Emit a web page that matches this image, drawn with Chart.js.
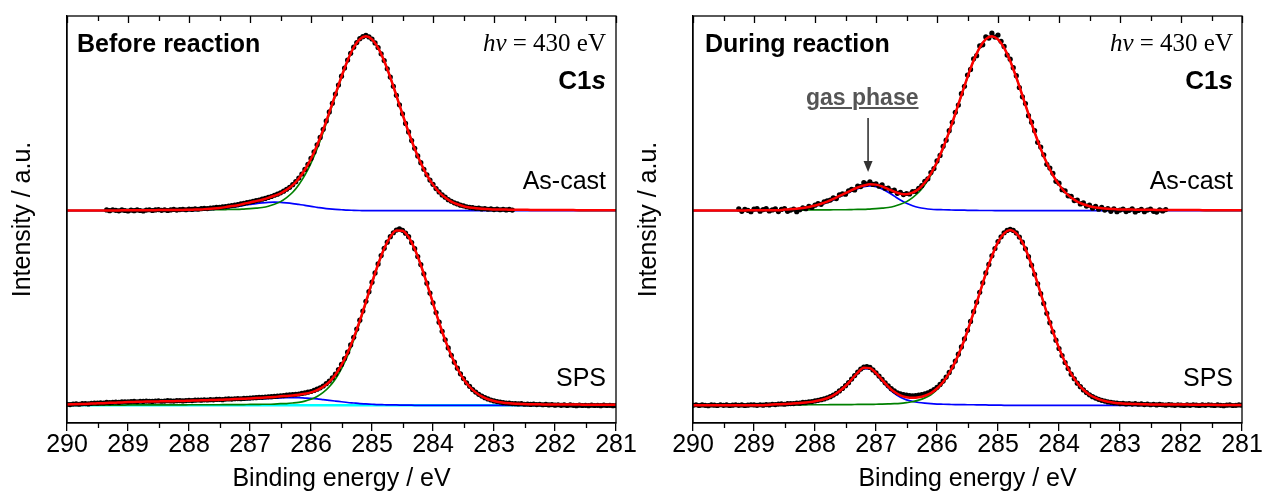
<!DOCTYPE html>
<html>
<head>
<meta charset="utf-8">
<script src="https://cdn.jsdelivr.net/npm/chart.js@4.4.1/dist/chart.umd.min.js"></script>
<style>
html,body{margin:0;padding:0;background:#fff;}
#wrap{position:relative;width:1263px;height:497px;overflow:hidden;font-family:"Liberation Sans",Arial,sans-serif;color:#000;}
canvas{position:absolute;top:0;}
.lbl{position:absolute;white-space:nowrap;line-height:1;font-size:25px;}
.b{font-weight:bold;}
.serif{font-family:"Liberation Serif","Times New Roman",serif;}
.gas{font-weight:bold;font-size:23px;color:#555;text-decoration:underline;text-decoration-thickness:2px;text-underline-offset:2px;}
</style>
</head>
<body>
<div id="wrap">
<canvas id="before" width="650" height="497" style="left:0px"></canvas>
<canvas id="during" width="660" height="497" style="left:631px"></canvas>

<div class="lbl b" style="left:77px;top:31px;">Before reaction</div>
<div class="lbl serif" style="right:657px;top:30px;"><i>hv</i> = 430 eV</div>
<div class="lbl b" style="right:657px;top:67px;font-size:26px;">C1<i>s</i></div>
<div class="lbl" style="right:657px;top:168px;">As-cast</div>
<div class="lbl" style="right:657px;top:365px;">SPS</div>

<div class="lbl b" style="left:705px;top:31px;">During reaction</div>
<div class="lbl serif" style="right:30px;top:30px;"><i>hv</i> = 430 eV</div>
<div class="lbl b" style="right:30px;top:67px;font-size:26px;">C1<i>s</i></div>
<div class="lbl gas" style="left:806px;top:86px;">gas phase</div>
<div class="lbl" style="right:30px;top:168px;">As-cast</div>
<div class="lbl" style="right:30px;top:365px;">SPS</div>
</div>

<script>
// ---- energy grids (eV) ----
const energyGrid = [290.0,289.9,289.8,289.7,289.6,289.5,289.4,289.3,289.2,289.1,
289.0,288.9,288.8,288.7,288.6,288.5,288.4,288.3,288.2,288.1,
288.0,287.9,287.8,287.7,287.6,287.5,287.4,287.3,287.2,287.1,
287.0,286.9,286.8,286.7,286.6,286.5,286.4,286.3,286.2,286.1,
286.0,285.9,285.8,285.7,285.6,285.5,285.4,285.3,285.2,285.1,
285.0,284.9,284.8,284.7,284.6,284.5,284.4,284.3,284.2,284.1,
284.0,283.9,283.8,283.7,283.6,283.5,283.4,283.3,283.2,283.1,
283.0,282.9,282.8,282.7,282.6,282.5,282.4,282.3,282.2,282.1,
282.0,281.9,281.8,281.7,281.6,281.5,281.4,281.3,281.2,281.1,
281.0];

const dataGrid = [290.00,289.95,289.90,289.85,289.80,289.75,289.70,289.65,289.60,289.55,289.50,289.45,289.40,289.35,289.30,289.25,289.20,289.15,289.10,289.05,
289.00,288.95,288.90,288.85,288.80,288.75,288.70,288.65,288.60,288.55,288.50,288.45,288.40,288.35,288.30,288.25,288.20,288.15,288.10,288.05,
288.00,287.95,287.90,287.85,287.80,287.75,287.70,287.65,287.60,287.55,287.50,287.45,287.40,287.35,287.30,287.25,287.20,287.15,287.10,287.05,
287.00,286.95,286.90,286.85,286.80,286.75,286.70,286.65,286.60,286.55,286.50,286.45,286.40,286.35,286.30,286.25,286.20,286.15,286.10,286.05,
286.00,285.95,285.90,285.85,285.80,285.75,285.70,285.65,285.60,285.55,285.50,285.45,285.40,285.35,285.30,285.25,285.20,285.15,285.10,285.05,
285.00,284.95,284.90,284.85,284.80,284.75,284.70,284.65,284.60,284.55,284.50,284.45,284.40,284.35,284.30,284.25,284.20,284.15,284.10,284.05,
284.00,283.95,283.90,283.85,283.80,283.75,283.70,283.65,283.60,283.55,283.50,283.45,283.40,283.35,283.30,283.25,283.20,283.15,283.10,283.05,
283.00,282.95,282.90,282.85,282.80,282.75,282.70,282.65,282.60,282.55,282.50,282.45,282.40,282.35,282.30,282.25,282.20,282.15,282.10,282.05,
282.00,281.95,281.90,281.85,281.80,281.75,281.70,281.65,281.60,281.55,281.50,281.45,281.40,281.35,281.30,281.25,281.20,281.15,281.10,281.05,
281.00];

const xTickValues = [290,289,288,287,286,285,284,283,282,281];
const gasPhaseEnergy = 287.13;

// ---- Before reaction, As-cast ----
const beforeAsCastMain = [0.001,0.001,0.001,0.001,0.001,0.001,0.001,0.001,0.001,0.002,
0.002,0.002,0.002,0.002,0.002,0.003,0.003,0.003,0.003,0.004,
0.004,0.004,0.004,0.005,0.005,0.005,0.006,0.007,0.007,0.009,
0.011,0.014,0.018,0.025,0.036,0.051,0.074,0.104,0.147,0.201,
0.269,0.350,0.443,0.545,0.650,0.753,0.846,0.920,0.968,0.985,
0.968,0.920,0.846,0.753,0.650,0.545,0.443,0.350,0.269,0.201,
0.147,0.104,0.074,0.051,0.036,0.025,0.018,0.014,0.011,0.009,
0.007,0.007,0.006,0.005,0.005,0.005,0.004,0.004,0.004,0.004,
0.003,0.003,0.003,0.003,0.002,0.002,0.002,0.002,0.002,0.002,
0.002];
const beforeAsCastMinor = [0,0,0,0,0,0,0,0,0,0,
0,0,0,0,0,0,0,0,0,0,
0.001,0.002,0.003,0.005,0.007,0.010,0.014,0.019,0.024,0.030,
0.035,0.040,0.044,0.047,0.048,0.047,0.044,0.040,0.035,0.030,
0.024,0.019,0.014,0.010,0.007,0.005,0.003,0.002,0.001,0,
0,0,0,0,0,0,0,0,0,0,
0,0,0,0,0,0,0,0,0,0,
0,0,0,0,0,0,0,0,0,0,
0,0,0,0,0,0,0,0,0,0,
0];
const beforeAsCastFit = [0.001,0.001,0.001,0.001,0.001,0.001,0.001,0.001,0.001,0.002,
0.002,0.002,0.002,0.002,0.002,0.003,0.003,0.003,0.003,0.004,
0.005,0.006,0.007,0.010,0.012,0.015,0.020,0.026,0.031,0.039,
0.046,0.054,0.062,0.072,0.084,0.098,0.118,0.144,0.182,0.231,
0.293,0.369,0.457,0.555,0.657,0.758,0.849,0.922,0.969,0.985,
0.968,0.920,0.846,0.753,0.650,0.545,0.443,0.350,0.269,0.201,
0.147,0.104,0.074,0.051,0.036,0.025,0.018,0.014,0.011,0.009,
0.007,0.007,0.006,0.005,0.005,0.005,0.004,0.004,0.004,0.004,
0.003,0.003,0.003,0.003,0.002,0.002,0.002,0.002,0.002,0.002,
0.002];
const beforeAsCastData = [null,null,null,null,null,null,null,null,null,null,null,null,null,
0.004,0.000,0.005,0.002,-0.001,0.004,0.001,
-0.002,0.003,0.000,0.004,0.001,-0.002,0.003,0.005,0.001,0.004,
0.006,0.002,0.005,0.001,0.004,0.007,0.003,0.006,0.008,0.005,
0.009,0.007,0.010,0.008,0.011,0.013,0.012,0.015,0.016,0.018,
0.019,0.021,0.023,0.026,0.029,0.031,0.034,0.038,0.041,0.045,
0.049,0.052,0.057,0.060,0.065,0.069,0.075,0.080,0.087,0.093,
0.101,0.110,0.121,0.132,0.147,0.164,0.184,0.207,0.233,0.262,
0.295,0.332,0.372,0.414,0.460,0.507,0.558,0.607,0.659,0.710,
0.760,0.806,0.851,0.889,0.924,0.950,0.972,0.983,0.990,0.982,
0.970,0.948,0.922,0.886,0.848,0.802,0.755,0.703,0.652,0.598,
0.547,0.493,0.445,0.396,0.352,0.309,0.271,0.234,0.203,0.173,
0.149,0.125,0.106,0.089,0.076,0.062,0.053,0.044,0.038,0.031,
0.027,0.022,0.019,0.017,0.013,0.014,0.010,0.012,0.008,0.010,
0.006,0.009,0.005,0.008,0.004,0.007,0.003];

// ---- Before reaction, SPS ----
const beforeSpsMain = [0.001,0.001,0.001,0.001,0.001,0.001,0.001,0.001,0.001,0.001,
0.002,0.002,0.002,0.002,0.002,0.002,0.002,0.002,0.002,0.002,
0.003,0.003,0.003,0.003,0.003,0.003,0.004,0.004,0.004,0.004,
0.005,0.005,0.006,0.006,0.007,0.009,0.010,0.013,0.017,0.024,
0.034,0.050,0.073,0.105,0.149,0.208,0.281,0.368,0.468,0.577,
0.688,0.793,0.883,0.950,0.986,0.986,0.950,0.883,0.793,0.688,
0.577,0.468,0.368,0.281,0.208,0.149,0.105,0.073,0.050,0.034,
0.024,0.017,0.013,0.010,0.009,0.007,0.006,0.006,0.005,0.005,
0.004,0.004,0.004,0.004,0.004,0.003,0.003,0.003,0.003,0.003,
0.003];
const beforeSpsMinor = [0.004,0.005,0.006,0.007,0.009,0.010,0.011,0.013,0.014,0.015,
0.016,0.017,0.018,0.019,0.019,0.020,0.021,0.021,0.022,0.022,
0.023,0.024,0.025,0.026,0.027,0.028,0.029,0.030,0.032,0.033,
0.034,0.036,0.037,0.039,0.040,0.042,0.043,0.043,0.043,0.041,
0.039,0.036,0.032,0.028,0.024,0.020,0.016,0.013,0.010,0.008,
0.006,0.004,0.003,0.002,0.002,0.001,0.001,0,0,0,
0,0,0,0,0,0,0,0,0,0,
0,0,0,0,0,0,0,0,0,0,
0,0,0,0,0,0,0,0,0,0,
0];
const beforeSpsFit = [0.005,0.006,0.007,0.008,0.010,0.011,0.012,0.014,0.015,0.016,
0.018,0.019,0.020,0.021,0.021,0.022,0.023,0.023,0.024,0.024,
0.026,0.027,0.028,0.029,0.030,0.031,0.033,0.034,0.036,0.037,
0.039,0.041,0.043,0.045,0.047,0.051,0.053,0.056,0.060,0.065,
0.073,0.086,0.105,0.133,0.173,0.228,0.297,0.381,0.478,0.585,
0.694,0.797,0.886,0.952,0.988,0.987,0.951,0.883,0.793,0.688,
0.577,0.468,0.368,0.281,0.208,0.149,0.105,0.073,0.050,0.034,
0.024,0.017,0.013,0.010,0.009,0.007,0.006,0.006,0.005,0.005,
0.004,0.004,0.004,0.004,0.004,0.003,0.003,0.003,0.003,0.003,
0.003];
const beforeSpsBackgroundEnergy = [290.0, 281.0];
const beforeSpsBackground = [0.0, 0.0];
const beforeSpsData = [0.006,0.004,0.007,0.008,0.006,0.009,0.010,0.008,0.011,0.013,
0.012,0.014,0.013,0.016,0.015,0.017,0.018,0.016,0.019,0.020,
0.019,0.021,0.022,0.020,0.023,0.022,0.024,0.023,0.022,0.024,
0.025,0.023,0.024,0.026,0.025,0.024,0.026,0.027,0.025,0.027,
0.028,0.027,0.029,0.030,0.029,0.031,0.030,0.032,0.031,0.033,
0.034,0.032,0.035,0.036,0.035,0.037,0.038,0.037,0.039,0.040,
0.041,0.042,0.043,0.045,0.045,0.047,0.048,0.049,0.050,0.052,
0.054,0.055,0.057,0.059,0.060,0.062,0.064,0.067,0.070,0.074,
0.078,0.084,0.091,0.099,0.109,0.122,0.137,0.155,0.176,0.202,
0.231,0.264,0.300,0.341,0.384,0.431,0.481,0.533,0.588,0.642,
0.696,0.748,0.799,0.846,0.887,0.922,0.953,0.975,0.990,0.997,
0.989,0.973,0.953,0.920,0.885,0.841,0.795,0.743,0.690,0.634,
0.579,0.524,0.470,0.418,0.370,0.324,0.283,0.244,0.210,0.178,
0.151,0.127,0.107,0.089,0.075,0.062,0.052,0.043,0.036,0.030,
0.025,0.021,0.018,0.015,0.013,0.012,0.010,0.009,0.008,0.009,
0.006,0.007,0.005,0.007,0.004,0.006,0.003,0.005,0.002,0.004,
0.001,0.003,0.000,0.002,-0.001,0.002,0.000,-0.002,0.001,-0.001,
0.000,-0.002,0.001,-0.001,0.000,-0.002,0.001,-0.001,0.000,-0.002,-0.001];

// ---- During reaction, As-cast ----
const duringAsCastMain = [0.001,0.001,0.001,0.001,0.001,0.001,0.001,0.001,0.001,0.002,
0.002,0.002,0.002,0.002,0.002,0.003,0.003,0.003,0.003,0.004,
0.004,0.004,0.004,0.005,0.005,0.005,0.006,0.007,0.007,0.009,
0.011,0.014,0.018,0.025,0.036,0.051,0.074,0.104,0.147,0.201,
0.269,0.350,0.443,0.545,0.650,0.753,0.846,0.920,0.968,0.985,
0.968,0.920,0.846,0.753,0.650,0.545,0.443,0.350,0.269,0.201,
0.147,0.104,0.074,0.051,0.036,0.025,0.018,0.014,0.011,0.009,
0.007,0.007,0.006,0.005,0.005,0.005,0.004,0.004,0.004,0.004,
0.003,0.003,0.003,0.003,0.002,0.002,0.002,0.002,0.002,0.002,
0.002];
const duringAsCastGas = [0,0,0,0,0,0,0,0,0,0,
0,0,0,0,0,0.003,0.005,0.008,0.012,0.017,
0.025,0.035,0.047,0.061,0.078,0.094,0.110,0.124,0.135,0.140,
0.136,0.123,0.104,0.082,0.060,0.042,0.028,0.018,0.012,0.008,
0.006,0.005,0.004,0.003,0.003,0.002,0.002,0.001,0.001,0.001,
0,0,0,0,0,0,0,0,0,0,
0,0,0,0,0,0,0,0,0,0,
0,0,0,0,0,0,0,0,0,0,
0,0,0,0,0,0,0,0,0,0,
0];
const duringAsCastFit = [0.001,0.001,0.001,0.001,0.001,0.001,0.001,0.001,0.001,0.002,
0.002,0.002,0.002,0.002,0.002,0.006,0.008,0.011,0.015,0.021,
0.029,0.039,0.051,0.066,0.083,0.099,0.116,0.131,0.142,0.149,
0.147,0.137,0.122,0.107,0.096,0.093,0.102,0.122,0.159,0.209,
0.275,0.355,0.447,0.548,0.653,0.755,0.848,0.921,0.969,0.986,
0.968,0.920,0.846,0.753,0.650,0.545,0.443,0.350,0.269,0.201,
0.147,0.104,0.074,0.051,0.036,0.025,0.018,0.014,0.011,0.009,
0.007,0.007,0.006,0.005,0.005,0.005,0.004,0.004,0.004,0.004,
0.003,0.003,0.003,0.003,0.002,0.002,0.002,0.002,0.002,0.002,
0.002];
const duringAsCastData = [null,null,null,null,null,null,null,null,null,null,null,null,null,null,null,
0.010,-0.004,0.008,0.002,-0.006,
0.009,0.012,-0.003,0.006,0.011,-0.002,0.004,0.010,-0.005,0.007,
0.012,-0.004,0.003,0.009,-0.006,0.005,0.016,0.011,0.024,0.018,
0.031,0.040,0.036,0.050,0.055,0.060,0.072,0.068,0.089,0.095,
0.093,0.112,0.120,0.117,0.139,0.136,0.158,0.150,0.163,0.148,
0.151,0.138,0.146,0.126,0.128,0.112,0.116,0.098,0.103,0.091,
0.097,0.094,0.108,0.109,0.126,0.141,0.166,0.180,0.215,0.238,
0.281,0.312,0.364,0.398,0.452,0.499,0.556,0.597,0.661,0.703,
0.766,0.798,0.858,0.876,0.931,0.937,0.982,0.975,1.003,0.981,
0.992,0.957,0.928,0.879,0.856,0.808,0.763,0.696,0.643,0.605,
0.537,0.500,0.452,0.386,0.359,0.316,0.262,0.241,0.211,0.166,
0.155,0.118,0.112,0.084,0.081,0.057,0.060,0.038,0.044,0.026,
0.031,0.014,0.024,0.008,0.019,0.003,0.012,-0.004,0.010,-0.006,
0.003,0.009,-0.005,0.002,0.010,-0.007,0.001,0.008,-0.006,0.003,
0.009,-0.004,-0.008,0.004,-0.002,0.006];

// ---- During reaction, SPS ----
const duringSpsMain = [0.001,0.001,0.001,0.001,0.001,0.001,0.001,0.001,0.001,0.001,
0.001,0.001,0.002,0.002,0.002,0.002,0.002,0.002,0.002,0.003,
0.003,0.003,0.003,0.004,0.004,0.004,0.004,0.005,0.005,0.005,
0.006,0.007,0.008,0.009,0.011,0.015,0.020,0.029,0.042,0.060,
0.088,0.126,0.177,0.243,0.323,0.417,0.522,0.633,0.742,0.841,
0.921,0.972,0.990,0.972,0.921,0.841,0.742,0.633,0.522,0.417,
0.323,0.243,0.177,0.126,0.088,0.060,0.042,0.029,0.020,0.015,
0.011,0.009,0.008,0.007,0.006,0.005,0.005,0.005,0.004,0.004,
0.004,0.004,0.003,0.003,0.003,0.003,0.002,0.002,0.002,0.002,
0.002];
const duringSpsGas = [0,0,0,0,0,0,0,0,0,0,
0,0,0,0.003,0.004,0.005,0.007,0.009,0.012,0.015,
0.020,0.027,0.037,0.052,0.075,0.105,0.142,0.180,0.207,0.205,
0.176,0.137,0.098,0.067,0.045,0.031,0.022,0.016,0.012,0.009,
0.007,0.006,0.005,0.004,0.004,0.003,0.003,0.002,0.002,0.001,
0.001,0,0,0,0,0,0,0,0,0,
0,0,0,0,0,0,0,0,0,0,
0,0,0,0,0,0,0,0,0,0,
0,0,0,0,0,0,0,0,0,0,
0];
const duringSpsFit = [0.001,0.001,0.001,0.001,0.001,0.001,0.001,0.001,0.001,0.001,
0.001,0.001,0.002,0.005,0.006,0.007,0.009,0.011,0.014,0.018,
0.023,0.030,0.040,0.056,0.079,0.109,0.146,0.185,0.212,0.210,
0.182,0.144,0.106,0.076,0.056,0.046,0.042,0.045,0.054,0.069,
0.095,0.132,0.182,0.247,0.327,0.420,0.525,0.635,0.744,0.842,
0.922,0.972,0.990,0.972,0.921,0.841,0.742,0.633,0.522,0.417,
0.323,0.243,0.177,0.126,0.088,0.060,0.042,0.029,0.020,0.015,
0.011,0.009,0.008,0.007,0.006,0.005,0.005,0.005,0.004,0.004,
0.004,0.004,0.003,0.003,0.003,0.003,0.002,0.002,0.002,0.002,
0.002];
const duringSpsData = [0.000,0.003,-0.001,0.002,0.000,-0.002,0.002,0.001,-0.001,0.003,
0.000,0.002,-0.001,0.001,0.003,0.000,0.002,-0.001,0.001,0.003,
0.002,0.000,0.003,0.001,0.004,0.002,0.006,0.004,0.007,0.008,
0.006,0.009,0.010,0.010,0.013,0.012,0.016,0.017,0.020,0.021,
0.025,0.028,0.032,0.036,0.042,0.049,0.058,0.068,0.081,0.095,
0.111,0.128,0.148,0.168,0.188,0.205,0.216,0.219,0.214,0.200,
0.184,0.165,0.147,0.127,0.110,0.094,0.082,0.071,0.065,0.060,
0.057,0.055,0.054,0.055,0.057,0.060,0.065,0.071,0.079,0.089,
0.102,0.118,0.137,0.160,0.186,0.216,0.250,0.289,0.330,0.375,
0.424,0.474,0.529,0.583,0.639,0.692,0.748,0.796,0.845,0.886,
0.925,0.952,0.975,0.988,0.995,0.988,0.974,0.951,0.922,0.884,
0.840,0.792,0.740,0.687,0.631,0.576,0.520,0.467,0.415,0.368,
0.321,0.281,0.242,0.208,0.176,0.150,0.125,0.105,0.087,0.072,
0.059,0.049,0.041,0.034,0.028,0.024,0.019,0.017,0.014,0.013,
0.010,0.011,0.008,0.010,0.007,0.009,0.006,0.008,0.004,0.007,
0.003,0.006,0.002,0.005,0.003,0.001,0.004,0.002,0.000,0.003,
0.001,-0.001,0.002,0.000,0.003,0.001,-0.001,0.002,0.000,0.003,
0.001,-0.001,0.002,0.000,-0.002,0.001,0.002,-0.001,0.000,0.002,0.001];

// ---- drawing ----
const FONT = '"Liberation Sans", Arial, sans-serif';
const AS_CAST_OFFSET = 1.1;   // vertical stacking of the upper spectrum
const C = {fit:'#ff0000', main:'#008000', minor:'#0000ff', bg:'#00ffff', dots:'#000000'};

function curve(xs, vals, offset, color, width, order) {
  return {
    data: vals.map((v, k) => ({x: xs[k], y: v + offset})),
    borderColor: color, borderWidth: width, pointRadius: 0, pointHoverRadius: 0,
    fill: false, cubicInterpolationMode: 'monotone', order: order
  };
}
function dots(vals, offset) {
  const pts = [];
  vals.forEach((v, k) => { if (v !== null && v !== undefined) pts.push({x: dataGrid[k], y: v + offset}); });
  return {data: pts, showLine: false, pointRadius: 2.6, pointHoverRadius: 0,
          pointBackgroundColor: C.dots, pointBorderWidth: 0, borderColor: C.dots, order: 1};
}
function spectrum(fit, main, minor, data, offset) {
  return [
    curve(energyGrid, fit, offset, C.fit, 2.5, 0),
    dots(data, offset),
    curve(energyGrid, main, offset, C.main, 1.7, 2),
    curve(energyGrid, minor, offset, C.minor, 1.7, 3)
  ];
}

const framePlugin = {
  id: 'frame',
  afterDraw(chart) {
    const {ctx, chartArea: a, scales: {x}} = chart;
    ctx.save();
    ctx.strokeStyle = '#000';
    ctx.lineWidth = 1.3;
    ctx.strokeRect(a.left, a.top, a.right - a.left, a.bottom - a.top);
    ctx.beginPath();
    xTickValues.forEach(v => {
      const px = Math.round(x.getPixelForValue(v)) + 0.5;
      ctx.moveTo(px, a.top); ctx.lineTo(px, a.top + 7);
    });
    for (let i = 0; i < xTickValues.length - 1; i++) {
      const mv = (xTickValues[i] + xTickValues[i + 1]) / 2;
      const px = Math.round(x.getPixelForValue(mv)) + 0.5;
      ctx.moveTo(px, a.top); ctx.lineTo(px, a.top + 5);
      ctx.moveTo(px, a.bottom); ctx.lineTo(px, a.bottom + 5);
    }
    ctx.stroke();
    const arrow = chart.options.plugins.frame && chart.options.plugins.frame.arrow;
    if (arrow) {
      const px = x.getPixelForValue(arrow.value);
      ctx.strokeStyle = '#333'; ctx.fillStyle = '#333'; ctx.lineWidth = 1.6;
      ctx.beginPath(); ctx.moveTo(px, arrow.y1); ctx.lineTo(px, arrow.y2 - 8); ctx.stroke();
      ctx.beginPath(); ctx.moveTo(px - 4.5, arrow.y2 - 11); ctx.lineTo(px + 4.5, arrow.y2 - 11);
      ctx.lineTo(px, arrow.y2); ctx.closePath(); ctx.fill();
    }
    ctx.restore();
  }
};

function buildChart(id, datasets, yWidth, padRight, yTitlePad, frameOpts) {
  return new Chart(document.getElementById(id), {
    type: 'line',
    data: {datasets: datasets},
    options: {
      responsive: false, animation: false, devicePixelRatio: 1, events: [],
      layout: {padding: {top: 16, right: padRight, left: 0, bottom: 0}},
      plugins: {legend: {display: false}, tooltip: {enabled: false}, frame: frameOpts},
      scales: {
        x: {
          type: 'linear', min: 281, max: 290, reverse: true,
          afterBuildTicks: s => { s.ticks = xTickValues.map(v => ({value: v})); },
          ticks: {font: {family: FONT, size: 25, lineHeight: 1.1}, color: '#000', padding: 0,
                  maxRotation: 0, autoSkip: false, callback: v => String(v)},
          grid: {drawOnChartArea: false, drawTicks: true, tickLength: 8, color: '#000', lineWidth: 1.3},
          border: {display: true, color: '#000', width: 1.3},
          title: {display: true, text: 'Binding energy / eV', color: '#000',
                  font: {family: FONT, size: 25}, padding: {top: 0, bottom: 3}},
          afterFit: s => { s.height = 74; }
        },
        y: {
          min: -0.1, max: 2.2,
          ticks: {display: false},
          grid: {display: false, drawTicks: false},
          border: {display: true, color: '#000', width: 1.3},
          title: {display: true, text: 'Intensity / a.u.', color: '#000',
                  font: {family: FONT, size: 25}, padding: {top: yTitlePad, bottom: 0}},
          afterFit: s => { s.width = yWidth; }
        }
      }
    },
    plugins: [framePlugin]
  });
}

const beforeSets = [
  curve(beforeSpsBackgroundEnergy, beforeSpsBackground, 0, C.bg, 2.6, 4),
  ...spectrum(beforeAsCastFit, beforeAsCastMain, beforeAsCastMinor, beforeAsCastData, AS_CAST_OFFSET),
  ...spectrum(beforeSpsFit, beforeSpsMain, beforeSpsMinor, beforeSpsData, 0)
];
const duringSets = [
  ...spectrum(duringAsCastFit, duringAsCastMain, duringAsCastGas, duringAsCastData, AS_CAST_OFFSET),
  ...spectrum(duringSpsFit, duringSpsMain, duringSpsGas, duringSpsData, 0)
];

buildChart('before', beforeSets, 67, 34, 8, {});
buildChart('during', duringSets, 62, 49, 3, {arrow: {value: gasPhaseEnergy, y1: 118, y2: 172}});
</script>
</body>
</html>
